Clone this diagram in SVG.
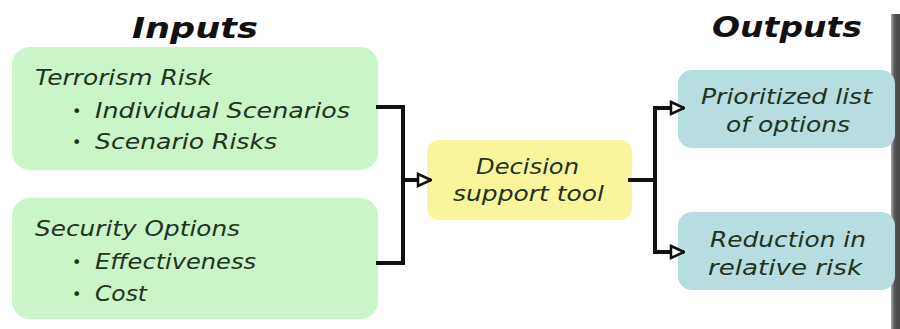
<svg xmlns="http://www.w3.org/2000/svg" width="900" height="329" viewBox="0 0 900 329">
<defs>
<style>
.t{font-family:"DejaVu Sans","Liberation Sans",sans-serif;font-style:italic;fill:#1f3320;font-size:21px}
.b{font-family:"DejaVu Sans","Liberation Sans",sans-serif;fill:#1f3320;font-size:16px}
.h{font-family:"DejaVu Sans","Liberation Sans",sans-serif;font-style:italic;font-weight:bold;fill:#111;font-size:29px}
.c{fill:none;stroke:#111;stroke-width:4}
.in{fill:#c9f5c9}
.out{fill:#b7dde0}
.dec{fill:#f9f59c}
</style>
<marker id="arr" viewBox="0 0 16 16" refX="15" refY="8" markerWidth="16" markerHeight="16" markerUnits="userSpaceOnUse" orient="auto">
<path d="M2,2 L15,8 L2,14 Z" fill="#fff" stroke="#111" stroke-width="2.5"/>
</marker>
<linearGradient id="edge" x1="0" x2="1" y1="0" y2="0">
<stop offset="0" stop-color="#aaa"/>
<stop offset="0.4" stop-color="#555"/>
<stop offset="1" stop-color="#444"/>
</linearGradient>
</defs>
<rect width="900" height="329" fill="#fff"/>
<rect x="891" y="14" width="9" height="315" fill="url(#edge)"/>
<text class="h" x="132" y="38" textLength="126" lengthAdjust="spacingAndGlyphs">Inputs</text>
<text class="h" x="712" y="37" textLength="150" lengthAdjust="spacingAndGlyphs">Outputs</text>
<g id="terrorism-risk">
<rect class="in" x="12" y="47" width="366" height="123" rx="18"/>
<text class="t" x="35" y="85" textLength="177" lengthAdjust="spacingAndGlyphs">Terrorism Risk</text>
<text class="b" x="72" y="117">•</text>
<text class="t" x="95" y="118" textLength="255" lengthAdjust="spacingAndGlyphs">Individual Scenarios</text>
<text class="b" x="72" y="148">•</text>
<text class="t" x="95" y="149" textLength="182" lengthAdjust="spacingAndGlyphs">Scenario Risks</text>
</g>
<g id="security-options">
<rect class="in" x="12" y="198" width="366" height="121" rx="18"/>
<text class="t" x="35" y="236" textLength="205" lengthAdjust="spacingAndGlyphs">Security Options</text>
<text class="b" x="72" y="268">•</text>
<text class="t" x="95" y="269" textLength="161" lengthAdjust="spacingAndGlyphs">Effectiveness</text>
<text class="b" x="72" y="300">•</text>
<text class="t" x="95" y="301" textLength="52" lengthAdjust="spacingAndGlyphs">Cost</text>
</g>
<g id="decision">
<rect class="dec" x="427" y="140" width="205" height="80" rx="12"/>
<text class="t" x="476" y="174" textLength="103" lengthAdjust="spacingAndGlyphs">Decision</text>
<text class="t" x="453" y="201" textLength="151" lengthAdjust="spacingAndGlyphs">support tool</text>
</g>
<g id="prioritized">
<rect class="out" x="678" y="70" width="217" height="78" rx="14"/>
<text class="t" x="701" y="104" textLength="171" lengthAdjust="spacingAndGlyphs">Prioritized list</text>
<text class="t" x="726" y="132" textLength="124" lengthAdjust="spacingAndGlyphs">of options</text>
</g>
<g id="reduction">
<rect class="out" x="678" y="212" width="217" height="78" rx="14"/>
<text class="t" x="710" y="247" textLength="156" lengthAdjust="spacingAndGlyphs">Reduction in</text>
<text class="t" x="708" y="275" textLength="154" lengthAdjust="spacingAndGlyphs">relative risk</text>
</g>
<g id="connectors">
<path class="c" d="M376,107 H403 V263 H376"/>
<path class="c" d="M403,180 H431" marker-end="url(#arr)"/>
<path class="c" d="M628,180 H655"/>
<path class="c" d="M655,108 V252"/>
<path class="c" d="M653,108 H684" marker-end="url(#arr)"/>
<path class="c" d="M653,252 H684" marker-end="url(#arr)"/>
</g>
</svg>
